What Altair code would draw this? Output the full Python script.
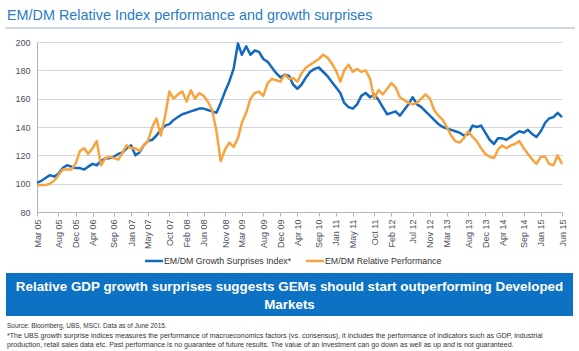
import altair as alt
import pandas as pd

# Monthly readings, Mar 2005 .. Jun 2015 (124 points each)
growth_surprises = [
    100.5, 102, 104, 106, 105, 107, 111, 113, 112, 111,
    111, 110, 112, 114, 113, 116, 118, 118, 119, 121,
    122, 125, 127, 120, 122, 127, 130, 131, 134, 138,
    141, 142, 145, 147, 149, 150, 151, 152, 153, 153,
    152, 151, 150, 157, 165, 172, 181, 199, 191, 197,
    191, 194, 193, 188, 186, 182, 178, 175, 177, 176,
    170, 167, 170, 175, 179, 181, 182, 179, 176, 172,
    168, 164, 157, 154, 153, 156, 162, 164, 161, 163,
    159, 154, 149, 150, 151, 148, 152, 156, 161, 156,
    154, 151, 148, 145, 142, 140, 139, 138, 137, 136,
    134, 135, 141, 140, 141, 136, 131, 128, 132, 132,
    131, 133, 135, 137, 136, 138, 135, 133, 137, 143,
    146, 147, 150, 147,
]
relative_perf = [
    98.8, 99, 99, 100, 102, 106, 110, 110, 110, 114,
    123, 125, 121, 125, 130, 113, 118, 119, 118, 117,
    122, 127, 125, 125, 123, 127, 130, 140, 146, 134,
    148, 165, 160, 163, 165, 158, 166, 160, 164, 162,
    158, 152, 137, 116, 124, 129, 126, 132, 143, 150,
    160, 164, 165, 162, 171, 174, 173, 172, 177, 174,
    174.6, 172, 178, 182, 184, 186, 188, 191, 189, 185,
    180, 172, 180, 184, 179, 181, 179, 180, 174, 160,
    166, 163, 167, 171, 168, 161, 159, 157, 156, 157,
    160, 163, 160, 152, 148, 145, 140, 134, 130, 129,
    132, 137, 133, 130, 125, 121, 119, 118, 124, 127,
    125, 127, 128, 130, 125, 121, 117, 114, 119, 119,
    114, 113, 120, 114,
]
months = pd.date_range("2005-03-01", periods=len(growth_surprises), freq="MS")

tick_labels = [
    (2005, 3), (2005, 8), (2005, 12), (2006, 4), (2006, 9), (2007, 1), (2007, 5),
    (2007, 10), (2008, 2), (2008, 6), (2008, 11), (2009, 3), (2009, 8), (2009, 12),
    (2010, 4), (2010, 9), (2011, 1), (2011, 5), (2011, 10), (2012, 2), (2012, 7),
    (2012, 11), (2013, 3), (2013, 8), (2013, 12), (2014, 4), (2014, 9), (2015, 1),
    (2015, 6),
]
y_ticks = [80, 100, 120, 140, 160, 180, 200]

series_names = ["EM/DM Growth Surprises Index*", "EM/DM Relative Performance"]
series_colors = ["#1469BE", "#F7A33E"]

title_text = "EM/DM Relative Index performance and growth surprises"
banner_lines = [
    "Relative GDP growth surprises suggests GEMs should start outperforming Developed",
    "Markets",
]
footnotes = [
    "Source: Bloomberg, UBS, MSCI. Data as of June 2015.",
    "*The UBS growth surprise indices measures the performance of macroeconomics factors (vs. consensus), it includes the performance of indicators such as GDP, industrial",
    "production, retail sales data etc. Past performance is no guarantee of future results. The value of an investment can go down as well as up and is not guaranteed.",
]

FONT = "Liberation Sans"
W, H = 525, 170
OX, OY = 37, 42  # plot origin in page pixels

dstr = [d.strftime("%Y-%m-%dT00:00:00") for d in months]
df = pd.concat([
    pd.DataFrame({"date": dstr, "value": growth_surprises, "series": series_names[0], "order": 0}),
    pd.DataFrame({"date": dstr, "value": relative_perf, "series": series_names[1], "order": 1}),
])

x_scale = alt.Scale(domain=[alt.DateTime(year=2005, month=3, date=1),
                            alt.DateTime(year=2015, month=6, date=1)], nice=False)
y_scale = alt.Scale(domain=[80, 200], nice=False)

lines = alt.Chart(df).mark_line(strokeWidth=2.5, strokeJoin="round").encode(
    x=alt.X("date:T", scale=x_scale, title=None,
            axis=alt.Axis(values=[alt.DateTime(year=y, month=m, date=1) for y, m in tick_labels],
                          format="%b %y", labelAngle=-90, grid=False,
                          domainColor="#b4b4b4", tickColor="#b4b4b4", tickSize=4,
                          labelFont=FONT, labelFontSize=9, labelColor="#4a5060",
                          labelPadding=3, labelOverlap=False, labelFlush=False)),
    y=alt.Y("value:Q", scale=y_scale, title=None,
            axis=alt.Axis(values=y_ticks, grid=True, gridColor="#d3d6dc", gridWidth=1.2,
                          domainColor="#b4b4b4", ticks=False,
                          labelFont=FONT, labelFontSize=9, labelColor="#4a5060",
                          labelPadding=7)),
    color=alt.Color("series:N", scale=alt.Scale(domain=series_names, range=series_colors),
                    legend=None),
    order="order:Q",
    detail="series:N",
)

one = pd.DataFrame({"a": [0]})


def px(x):
    return x - OX


def py(y):
    return y - OY


title = alt.Chart(one).mark_text(align="left", baseline="alphabetic", font=FONT,
                                 fontSize=14.4, color="#2A7CC4").encode(
    x=alt.value(px(7)), y=alt.value(py(20)), text=alt.value(title_text))

title_rule = alt.Chart(one).mark_rule(color="#9eb1cc", strokeWidth=1).encode(
    x=alt.value(px(5)), x2=alt.value(px(575)), y=alt.value(py(28)))

legend_y = py(261)
leg_parts = []
for name, col, x0 in zip(series_names, series_colors, [145, 306]):
    leg_parts.append(alt.Chart(one).mark_rule(color=col, strokeWidth=2.5).encode(
        x=alt.value(px(x0)), x2=alt.value(px(x0 + 18)), y=alt.value(legend_y)))
    leg_parts.append(alt.Chart(one).mark_text(align="left", baseline="middle", font=FONT,
                                              fontSize=8.8, color="#333333").encode(
        x=alt.value(px(x0 + 19)), y=alt.value(legend_y), text=alt.value(name)))

banner = alt.Chart(one).mark_rect(color="#0E72C4").encode(
    x=alt.value(px(6)), x2=alt.value(px(573)), y=alt.value(py(273)), y2=alt.value(py(316)))

banner_text = []
for line, yy in zip(banner_lines, [287, 305]):
    banner_text.append(alt.Chart(one).mark_text(align="center", baseline="middle", font=FONT,
                                                fontSize=13.4, fontWeight="bold",
                                                color="white").encode(
        x=alt.value(px(289.5)), y=alt.value(py(yy)), text=alt.value(line)))

foot = []
for line, yy, fs in zip(footnotes, [326, 336, 345], [6.5, 7.1, 7.1]):
    foot.append(alt.Chart(one).mark_text(align="left", baseline="middle", font=FONT,
                                         fontSize=fs, color="#333333").encode(
        x=alt.value(px(7)), y=alt.value(py(yy)), text=alt.value(line)))

chart = alt.layer(lines, title, title_rule, *leg_parts, banner, *banner_text, *foot).properties(
    width=W, height=H,
    padding={"left": OX, "top": OY, "right": 579 - OX - W, "bottom": 351 - OY - H},
    autosize=alt.AutoSizeParams(type="none"),
    background="white",
).configure_view(stroke=None)

chart.save("out.html", embed_options={"renderer": "svg", "actions": False})
